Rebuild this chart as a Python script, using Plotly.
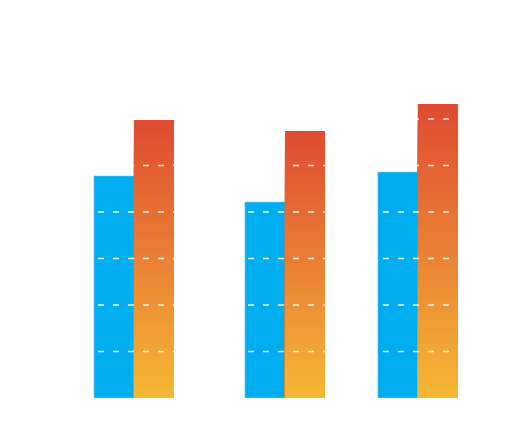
import plotly.graph_objects as go

# group positions along x (groups are not evenly spaced in the picture)
group_pos = [0.0, 1.0, 1.88]
blue_vals = [95.5, 84.3, 97.2]
red_vals = [119.6, 114.8, 126.5]
grid_vals = [20, 40, 60, 80, 100, 120]

bar_w = 0.265
n_steps = 60
bottom_rgb = (244, 185, 52)
mid_rgb = (234, 128, 52)
top_rgb = (224, 75, 49)


def grad_color(t):
    # yellow -> orange -> red from bottom to top
    if t < 0.5:
        a, b, s = bottom_rgb, mid_rgb, t / 0.5
    else:
        a, b, s = mid_rgb, top_rgb, (t - 0.5) / 0.5
    c = [round(a[k] + (b[k] - a[k]) * s) for k in range(3)]
    return f"rgb({c[0]},{c[1]},{c[2]})"


fig = go.Figure()

fig.add_trace(go.Bar(
    x=group_pos, y=blue_vals,
    width=bar_w, offset=-bar_w,
    marker=dict(color="#00AEEF", line=dict(color="#7fd3f5", width=0.6)),
    showlegend=False,
))

# red bars: overlapping bars from 0, tallest (red) first, shorter (yellow) on top
xs, ys, cols = [], [], []
for k in range(n_steps, 0, -1):
    for xp, v in zip(group_pos, red_vals):
        xs.append(xp)
        ys.append(v * k / n_steps)
        cols.append(grad_color((k - 0.5) / n_steps))
fig.add_trace(go.Bar(
    x=xs, y=ys,
    width=bar_w, offset=0,
    marker=dict(color=cols, line=dict(width=0)),
    showlegend=False,
))

for g in grid_vals:
    fig.add_hline(y=g, line=dict(color="rgba(255,255,255,0.9)", width=1.5, dash="6px,9px"),
                  layer="above")

fig.update_layout(
    width=518, height=434,
    margin=dict(l=0, r=0, t=18, b=44),
    paper_bgcolor="white", plot_bgcolor="white",
    barmode="overlay",
    xaxis=dict(range=[-0.834, 2.596], visible=False, showgrid=False),
    yaxis=dict(range=[0, 160], visible=False, showgrid=False),
)

fig.write_html("out.html")
